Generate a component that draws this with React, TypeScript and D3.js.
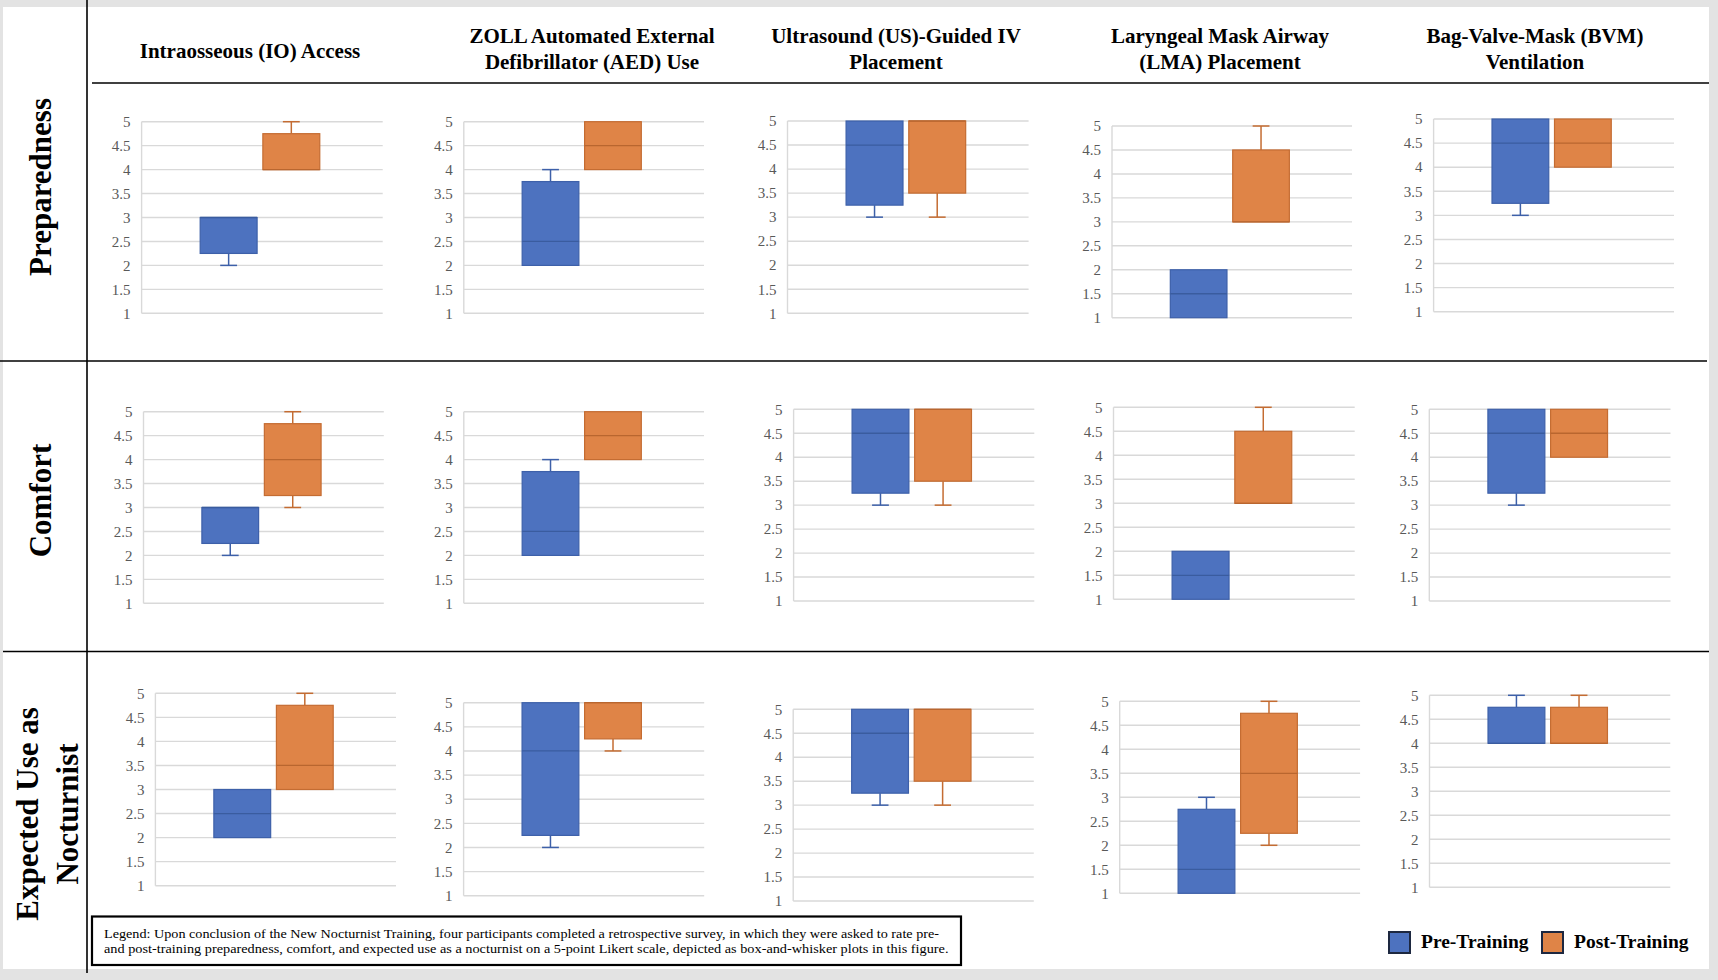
import React from "react";
import * as d3 from "d3";

// ---------- DATA ----------
const skillTitles: string[][] = [
  ["Intraosseous (IO) Access"],
  ["ZOLL Automated External", "Defibrillator (AED) Use"],
  ["Ultrasound (US)-Guided IV", "Placement"],
  ["Laryngeal Mask Airway", "(LMA) Placement"],
  ["Bag-Valve-Mask (BVM)", "Ventilation"],
];
const measureLabels: string[][] = [["Preparedness"], ["Comfort"], ["Expected Use as", "Nocturnist"]];
const seriesNames = ["Pre-Training", "Post-Training"];
const yTicks = [1, 1.5, 2, 2.5, 3, 3.5, 4, 4.5, 5];

// five-number summaries per skill: [min, q1, median, q3, max]
const preparednessPre = [[2, 2.25, 3, 3, 3], [2, 2, 2.5, 3.75, 4], [3, 3.25, 4.5, 5, 5], [1, 1, 1.5, 2, 2], [3, 3.25, 4.5, 5, 5]];
const preparednessPost = [[4, 4, 4, 4.75, 5], [4, 4, 4.5, 5, 5], [3, 3.5, 5, 5, 5], [3, 3, 3, 4.5, 5], [4, 4, 4.5, 5, 5]];
const comfortPre = [[2, 2.25, 3, 3, 3], [2, 2, 2.5, 3.75, 4], [3, 3.25, 4.5, 5, 5], [1, 1, 1.5, 2, 2], [3, 3.25, 4.5, 5, 5]];
const comfortPost = [[3, 3.25, 4, 4.75, 5], [4, 4, 4.5, 5, 5], [3, 3.5, 5, 5, 5], [3, 3, 3, 4.5, 5], [4, 4, 4.5, 5, 5]];
const expectedUsePre = [[2, 2, 2.5, 3, 3], [2, 2.25, 4, 5, 5], [3, 3.25, 4.5, 5, 5], [1, 1, 1.5, 2.75, 3], [4, 4, 4, 4.75, 5]];
const expectedUsePost = [[3, 3, 3.5, 4.75, 5], [4, 4.25, 5, 5, 5], [3, 3.5, 5, 5, 5], [2, 2.25, 3.5, 4.75, 5], [4, 4, 4, 4.75, 5]];

const legendLines = [
  "Legend: Upon conclusion of the New Nocturnist Training, four participants completed a retrospective survey, in which they were asked to rate pre-",
  "and post-training preparedness, comfort, and expected use as a nocturnist on a 5-point Likert scale, depicted as box-and-whisker plots in this figure.",
];

const rowData = [
  [preparednessPre, preparednessPost],
  [comfortPre, comfortPost],
  [expectedUsePre, expectedUsePost],
];

// ---------- LAYOUT ----------
// plot areas [left, right, top(y=5), bottom(y=1)]
const panelLayout: number[][][] = [
  [[141.6, 382.7, 121.7, 313.3], [463.8, 704, 121.7, 313.3], [787.5, 1028.6, 121, 313.3], [1112, 1352, 126, 317.7], [1433.6, 1674, 119, 311.7]],
  [[143.5, 383.8, 411.7, 603.3], [463.8, 704, 411.7, 603.3], [793.6, 1034.3, 409.3, 601], [1113.5, 1354.7, 407.3, 599.3], [1429.3, 1670.5, 409.3, 601]],
  [[155.4, 396, 693.3, 885.7], [463.6, 704.2, 702.7, 895.7], [793.2, 1033.8, 709.3, 901], [1119.7, 1360.1, 701.3, 893.3], [1429.5, 1670.3, 695.3, 887.3]],
];
const titleCenters = [250, 592, 896, 1220, 1535];
const rowCenters = [187, 500.5, 814];

const FILL = ["#4d72bf", "#df8447"];
const EDGE = ["#3d60a9", "#c46c32"];
const MED = ["#3a5c9f", "#b9662f"];
const SERIF = "'Liberation Serif', 'Times New Roman', serif";

function Panel({ layout, pre, post }: { layout: number[]; pre: number[]; post: number[] }) {
  const [l, r, t, b] = layout;
  const W = r - l;
  const y = d3.scaleLinear().domain([1, 5]).range([b, t]);
  const x = d3
    .scaleBand<string>()
    .domain(seriesNames)
    .range([l + 0.243 * W, l + 0.739 * W])
    .paddingInner(0.092);
  const capW = 0.07 * W;
  const stats = [pre, post];
  return (
    <g>
      {yTicks.map((v) => (
        <g key={v}>
          <line x1={l} x2={r} y1={y(v)} y2={y(v)} stroke="#d9d9d9" strokeWidth={1.4} />
          <text
            x={l - 11}
            y={y(v)}
            dy="0.35em"
            textAnchor="end"
            fontFamily={SERIF}
            fontSize={15}
            fill="#595959"
          >
            {String(v)}
          </text>
        </g>
      ))}
      <line x1={l} x2={l} y1={t} y2={b} stroke="#d9d9d9" strokeWidth={1.4} />
      {seriesNames.map((s, i) => {
        const [mn, q1, md, q3, mx] = stats[i];
        const x0 = x(s) as number;
        const bw = x.bandwidth();
        const cx = x0 + bw / 2;
        return (
          <g key={s}>
            {mn < q1 && (
              <g stroke={EDGE[i]} strokeWidth={1.5}>
                <line x1={cx} x2={cx} y1={y(q1)} y2={y(mn)} />
                <line x1={cx - capW / 2} x2={cx + capW / 2} y1={y(mn)} y2={y(mn)} />
              </g>
            )}
            {mx > q3 && (
              <g stroke={EDGE[i]} strokeWidth={1.5}>
                <line x1={cx} x2={cx} y1={y(q3)} y2={y(mx)} />
                <line x1={cx - capW / 2} x2={cx + capW / 2} y1={y(mx)} y2={y(mx)} />
              </g>
            )}
            <rect
              x={x0}
              y={y(q3)}
              width={bw}
              height={y(q1) - y(q3)}
              fill={FILL[i]}
              stroke={EDGE[i]}
              strokeWidth={1.2}
            />
            <line x1={x0} x2={x0 + bw} y1={y(md)} y2={y(md)} stroke={MED[i]} strokeWidth={1.3} />
          </g>
        );
      })}
    </g>
  );
}

export default function App() {
  return (
    <svg
      width={1718}
      height={980}
      style={{ position: "absolute", left: 0, top: 0, display: "block" }}
    >
      <rect x={0} y={0} width={1718} height={980} fill="#e3e3e3" />
      <rect x={3} y={7} width={1706} height={962} fill="#ffffff" />

      {/* table lines */}
      <line x1={87} x2={87} y1={0} y2={973} stroke="#000" strokeWidth={1.6} />
      <line x1={92} x2={1709} y1={83} y2={83} stroke="#000" strokeWidth={1.6} />
      <line x1={0} x2={1707} y1={361} y2={361} stroke="#000" strokeWidth={1.6} />
      <line x1={3} x2={1709} y1={651.5} y2={651.5} stroke="#000" strokeWidth={1.6} />

      {/* column titles */}
      {skillTitles.map((lines, ci) => (
        <text
          key={ci}
          textAnchor="middle"
          fontFamily={SERIF}
          fontWeight="bold"
          fontSize={21}
          fill="#000"
        >
          {lines.length === 1 ? (
            <tspan x={titleCenters[ci]} y={58}>
              {lines[0]}
            </tspan>
          ) : (
            lines.map((ln, li) => (
              <tspan key={li} x={titleCenters[ci]} y={42.5 + li * 26}>
                {ln}
              </tspan>
            ))
          )}
        </text>
      ))}

      {/* row labels */}
      {measureLabels.map((lines, ri) => (
        <g key={ri} transform={`translate(0, ${rowCenters[ri]}) rotate(-90)`}>
          {lines.length === 1 ? (
            <text x={0} y={51} textAnchor="middle" fontFamily={SERIF} fontWeight="bold" fontSize={31} fill="#000">
              {lines[0]}
            </text>
          ) : (
            lines.map((ln, li) => (
              <text
                key={li}
                x={0}
                y={38 + li * 40}
                textAnchor="middle"
                fontFamily={SERIF}
                fontWeight="bold"
                fontSize={31}
                fill="#000"
              >
                {ln}
              </text>
            ))
          )}
        </g>
      ))}

      {/* panels */}
      {rowData.map(([pre, post], ri) =>
        skillTitles.map((_, ci) => (
          <Panel key={`${ri}-${ci}`} layout={panelLayout[ri][ci]} pre={pre[ci]} post={post[ci]} />
        ))
      )}

      {/* caption box */}
      <rect x={92} y={916.5} width={869} height={48.5} fill="#fff" stroke="#000" strokeWidth={2.2} />
      {legendLines.map((ln, i) => (
        <text
          key={i}
          x={104}
          y={937.7 + i * 15.6}
          fontFamily={SERIF}
          fontSize={13.5}
          fill="#000"
          textLength={i === 0 ? 835 : 844.5}
          lengthAdjust="spacingAndGlyphs"
        >
          {ln}
        </text>
      ))}

      {/* series legend */}
      {seriesNames.map((s, i) => {
        const sx = [1389, 1542][i];
        return (
          <g key={s}>
            <rect x={sx} y={932} width={21} height={21} fill={FILL[i]} stroke="#1d2840" strokeWidth={2} />
            <text x={sx + 32} y={948} fontFamily={SERIF} fontWeight="bold" fontSize={19.5} fill="#000">
              {s}
            </text>
          </g>
        );
      })}
    </svg>
  );
}
